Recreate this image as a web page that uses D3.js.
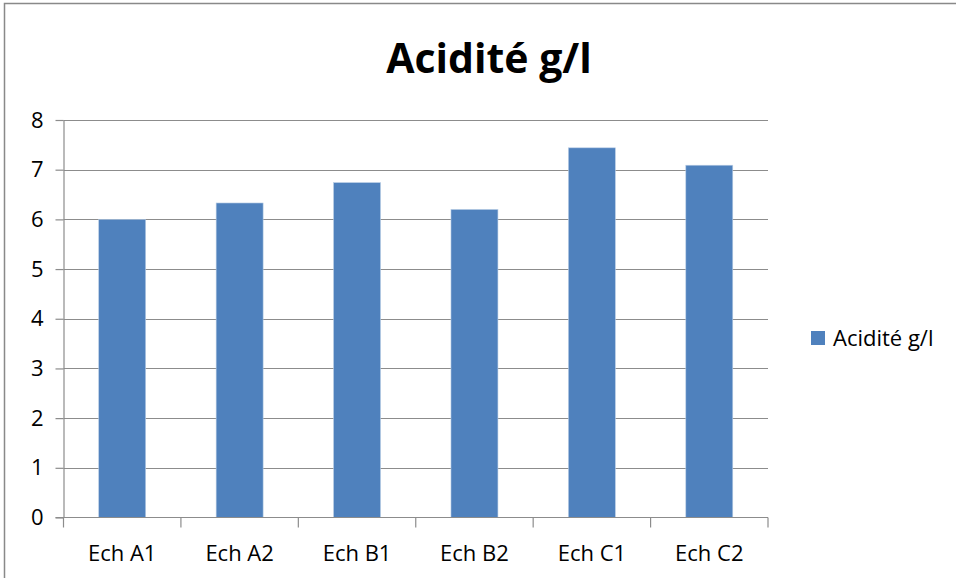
<!DOCTYPE html>
<html>
<head>
<meta charset="utf-8">
<script src="https://cdn.jsdelivr.net/npm/d3@7"></script>
<style>
  body { margin: 0; background: #fff; }
  text { font-family: "Open Sans", "Liberation Sans", sans-serif; fill: #000; }
</style>
</head>
<body>
<svg class="bar-chart"></svg>
<script>
var categories = ["Ech A1", "Ech A2", "Ech B1", "Ech B2", "Ech C1", "Ech C2"]
var acidite = [6.0, 6.33, 6.74, 6.2, 7.44, 7.09]
var yTicks = [0, 1, 2, 3, 4, 5, 6, 7, 8]
var seriesName = "Acidité g/l"

var width = 956
var height = 578
var margin = {top: 120, right: 188, bottom: 60.5, left: 63.5}
var chartWidth = width - margin.left - margin.right
var chartHeight = height - margin.top - margin.bottom

var svg = d3.select(".bar-chart")
    .attr("width", width)
    .attr("height", height)

// outer frame
svg.append("rect")
    .attr("x", 4.5)
    .attr("y", 3.5)
    .attr("width", width + 10)
    .attr("height", height + 10)
    .attr("fill", "#fff")
    .attr("stroke", "#898989")
    .attr("stroke-width", 1.5)

svg.append("text")
    .attr("x", 489)
    .attr("y", 73)
    .attr("text-anchor", "middle")
    .attr("font-size", 41)
    .attr("font-weight", "bold")
    .text("Acidité g/l")

var x = d3.scaleBand()
    .domain(categories)
    .range([0, chartWidth])
    .paddingInner(0.6)
    .paddingOuter(0.3)

var y = d3.scaleLinear()
    .domain([0, 8])
    .range([chartHeight, 0])

var g = svg.append("g")
    .attr("transform", `translate(${margin.left},${margin.top})`)

// gridlines
g.append("g")
  .selectAll("line")
  .data(yTicks.slice(1))
  .enter().append("line")
    .attr("x1", 0)
    .attr("x2", chartWidth)
    .attr("y1", function(d) { return Math.round(y(d)) + 0.5 })
    .attr("y2", function(d) { return Math.round(y(d)) + 0.5 })
    .attr("stroke", "#8c8c8c")
    .attr("stroke-width", 1.2)

g.append("g")
  .selectAll("rect")
  .data(acidite)
  .enter().append("rect")
    .attr("x", function(d, i) { return x(categories[i]) })
    .attr("y", function(d) { return y(d) })
    .attr("width", x.bandwidth())
    .attr("height", function(d) { return chartHeight - y(d) })
    .attr("fill", "#4f81bd")
    .attr("stroke", "#b9cde5")
    .attr("stroke-width", 0.6)

// y axis
var yAxis = g.append("g")
    .call(d3.axisLeft(y).tickValues(yTicks).tickSize(8).tickPadding(12).tickFormat(d3.format("d")))
yAxis.select(".domain").attr("stroke", "#8c8c8c").attr("stroke-width", 1.2).attr("d", `M0.5,0V${chartHeight}`)
yAxis.selectAll(".tick line").attr("stroke", "#8c8c8c").attr("stroke-width", 1.2)
yAxis.selectAll(".tick text").attr("font-size", 22).attr("fill", "#000")
yAxis.attr("font-family", null)

// x axis with ticks at band boundaries
var xAxis = g.append("g")
    .attr("transform", `translate(0,${chartHeight})`)
xAxis.append("line")
    .attr("x1", -8)
    .attr("x2", chartWidth)
    .attr("stroke", "#8c8c8c")
    .attr("stroke-width", 1.2)
xAxis.selectAll(".sep")
  .data(d3.range(categories.length + 1))
  .enter().append("line")
    .attr("class", "sep")
    .attr("x1", function(i) { return i * chartWidth / categories.length })
    .attr("x2", function(i) { return i * chartWidth / categories.length })
    .attr("y1", 0)
    .attr("y2", 10)
    .attr("stroke", "#8c8c8c")
    .attr("stroke-width", 1.2)
xAxis.selectAll(".label")
  .data(categories)
  .enter().append("text")
    .attr("class", "label")
    .attr("x", function(d) { return x(d) + x.bandwidth() / 2 })
    .attr("y", 43)
    .attr("text-anchor", "middle")
    .attr("font-size", 22)
    .text(function(d) { return d })

// legend
var legend = svg.append("g")
    .attr("transform", "translate(811,331)")
legend.append("rect")
    .attr("width", 14)
    .attr("height", 14)
    .attr("fill", "#4f81bd")
legend.append("text")
    .attr("x", 22)
    .attr("y", 15)
    .attr("font-size", 22)
    .text(seriesName)
</script>
</body>
</html>
